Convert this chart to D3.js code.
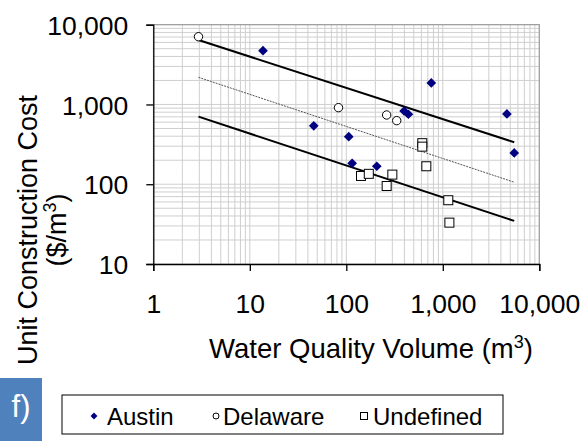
<!DOCTYPE html>
<html><head><meta charset="utf-8">
<script src="https://cdn.jsdelivr.net/npm/d3@7"></script>
<style>body{margin:0;background:#fff}svg{display:block}text{font-family:"Liberation Sans",Arial,sans-serif}</style>
</head><body>
<svg id="c" width="586" height="441"></svg>
<script>
// Data
const austinX = [13.7, 46, 106, 115, 207, 397, 440, 760, 4620, 5500];
const austinY = [4720, 540, 395, 183, 168, 828, 754, 1860, 760, 247];
const delawareX = [2.94, 83, 262, 333];
const delawareY = [7070, 912, 738, 627];
const undefinedX = [142, 171, 262, 300, 613, 613, 675, 1140, 1170];
const undefinedY = [127, 135, 95, 132, 327, 296, 168, 63, 33];
const lineX = [2.94, 5500];
const upperY = [6430, 336];
const middleY = [2190, 106];
const lowerY = [703, 34.7];
const xTicks = [1, 10, 100, 1000, 10000];
const yTicks = [10, 100, 1000, 10000];
const legendLabels = ["Austin", "Delaware", "Undefined"];

const svg = d3.select("#c");
const L = 153.3, R = 539.3, T = 24.7, B = 264;
const x = d3.scaleLog().domain([1, 10000]).range([L, R]);
const y = d3.scaleLog().domain([10, 10000]).range([B, T]);
const fmt = d3.format(",");

// minor + major gridlines
const minorX = [], minorY = [];
for (let d = 1; d < 10000; d *= 10) for (let k = 1; k < 10; k++) minorX.push(d * k);
for (let d = 10; d < 10000; d *= 10) for (let k = 1; k < 10; k++) minorY.push(d * k);
const g = svg.append("g");
g.selectAll(".gx").data(minorX.concat([10000])).join("line")
  .attr("x1", d => x(d)).attr("x2", d => x(d)).attr("y1", T).attr("y2", B)
  .attr("stroke", "#cfcfcf").attr("stroke-width", 1);
g.selectAll(".gy").data(minorY.concat([10000])).join("line")
  .attr("y1", d => y(d)).attr("y2", d => y(d)).attr("x1", L).attr("x2", R)
  .attr("stroke", "#cfcfcf").attr("stroke-width", 1);
// plot border (top/right)
svg.append("path").attr("d", `M${L},${T}H${R}V${B}`).attr("fill", "none").attr("stroke", "#a0a0a0").attr("stroke-width", 1.2);

// axes
const xa = svg.append("g").attr("transform", `translate(0,${B})`)
  .call(d3.axisBottom(x).tickValues(xTicks).tickSize(7).tickFormat(fmt));
const ya = svg.append("g").attr("transform", `translate(${L},0)`)
  .call(d3.axisLeft(y).tickValues(yTicks).tickSize(7).tickFormat(fmt));
[xa, ya].forEach(a => {
  a.select(".domain").attr("stroke", "#000").attr("stroke-width", 1.3);
  a.selectAll(".tick line").attr("stroke", "#000").attr("stroke-width", 1.3);
  a.selectAll("text").attr("font-size", 26.5).attr("fill", "#000")
    .attr("font-family", '"Liberation Sans",Arial,sans-serif');
});
xa.selectAll(".tick text").attr("y", 0).attr("dy", 0).attr("transform", "translate(0,49)");
ya.selectAll(".tick text").attr("x", -25).attr("dy", "0.36em");

// regression lines
const ln = d3.line().x(d => x(d[0])).y(d => y(d[1]));
svg.append("path").attr("d", ln(d3.zip(lineX, upperY))).attr("stroke", "#000").attr("stroke-width", 2).attr("fill", "none");
svg.append("path").attr("d", ln(d3.zip(lineX, middleY))).attr("stroke", "#555").attr("stroke-width", 1).attr("stroke-dasharray", "2,1").attr("fill", "none");
svg.append("path").attr("d", ln(d3.zip(lineX, lowerY))).attr("stroke", "#000").attr("stroke-width", 2).attr("fill", "none");

// points
const diamond = d3.symbol().type(d3.symbolDiamond2).size(60);
svg.selectAll(".ua").data(d3.zip(undefinedX, undefinedY)).join("rect")
  .attr("x", d => x(d[0]) - 4.5).attr("y", d => y(d[1]) - 4.5).attr("width", 9).attr("height", 9)
  .attr("fill", "#fff").attr("stroke", "#000").attr("stroke-width", 1);
svg.selectAll(".da").data(d3.zip(delawareX, delawareY)).join("circle")
  .attr("cx", d => x(d[0])).attr("cy", d => y(d[1])).attr("r", 4.2)
  .attr("fill", "#fff").attr("stroke", "#000").attr("stroke-width", 1);
svg.selectAll(".aa").data(d3.zip(austinX, austinY)).join("path")
  .attr("d", diamond).attr("transform", d => `translate(${x(d[0])},${y(d[1])})`)
  .attr("fill", "#000080");

// axis titles
const xt = svg.append("text").attr("x", 371).attr("y", 358).attr("text-anchor", "middle").attr("font-size", 27.5);
xt.append("tspan").text("Water Quality Volume (m");
xt.append("tspan").text("3").attr("font-size", 18).attr("dy", -10);
xt.append("tspan").text(")").attr("dy", 10);

const yt = svg.append("g").attr("transform", "translate(0,230) rotate(-90)");
yt.append("text").attr("x", 0).attr("y", 37).attr("text-anchor", "middle").attr("font-size", 27).text("Unit Construction Cost");
const yt2 = yt.append("text").attr("x", 0).attr("y", 66).attr("text-anchor", "middle").attr("font-size", 27);
yt2.append("tspan").text("($/m");
yt2.append("tspan").text("3").attr("font-size", 18).attr("dy", -10);
yt2.append("tspan").text(")").attr("dy", 10);

// f) badge
svg.append("rect").attr("x", 0).attr("y", 378).attr("width", 42).attr("height", 63).attr("fill", "#4f81bd");
svg.append("text").attr("x", 21).attr("y", 417).attr("text-anchor", "middle").attr("font-size", 31).attr("fill", "#fff").text("f)");

// legend
svg.append("rect").attr("x", 62).attr("y", 395).attr("width", 441).attr("height", 39).attr("fill", "#fff").attr("stroke", "#000").attr("stroke-width", 1);
const lx = [94, 216, 364], tx = [107, 223, 373];
svg.append("path").attr("d", d3.symbol().type(d3.symbolDiamond2).size(30)).attr("transform", `translate(${lx[0]},416)`).attr("fill", "#000080");
svg.append("circle").attr("cx", lx[1]).attr("cy", 416).attr("r", 3).attr("fill", "#fff").attr("stroke", "#000").attr("stroke-width", 1);
svg.append("rect").attr("x", lx[2] - 3.5).attr("y", 412.5).attr("width", 7).attr("height", 7).attr("fill", "#fff").attr("stroke", "#000").attr("stroke-width", 1);
svg.selectAll(".lt").data(legendLabels).join("text")
  .attr("x", (d, i) => tx[i]).attr("y", 425).attr("font-size", 24).text(d => d);
</script>
</body></html>
